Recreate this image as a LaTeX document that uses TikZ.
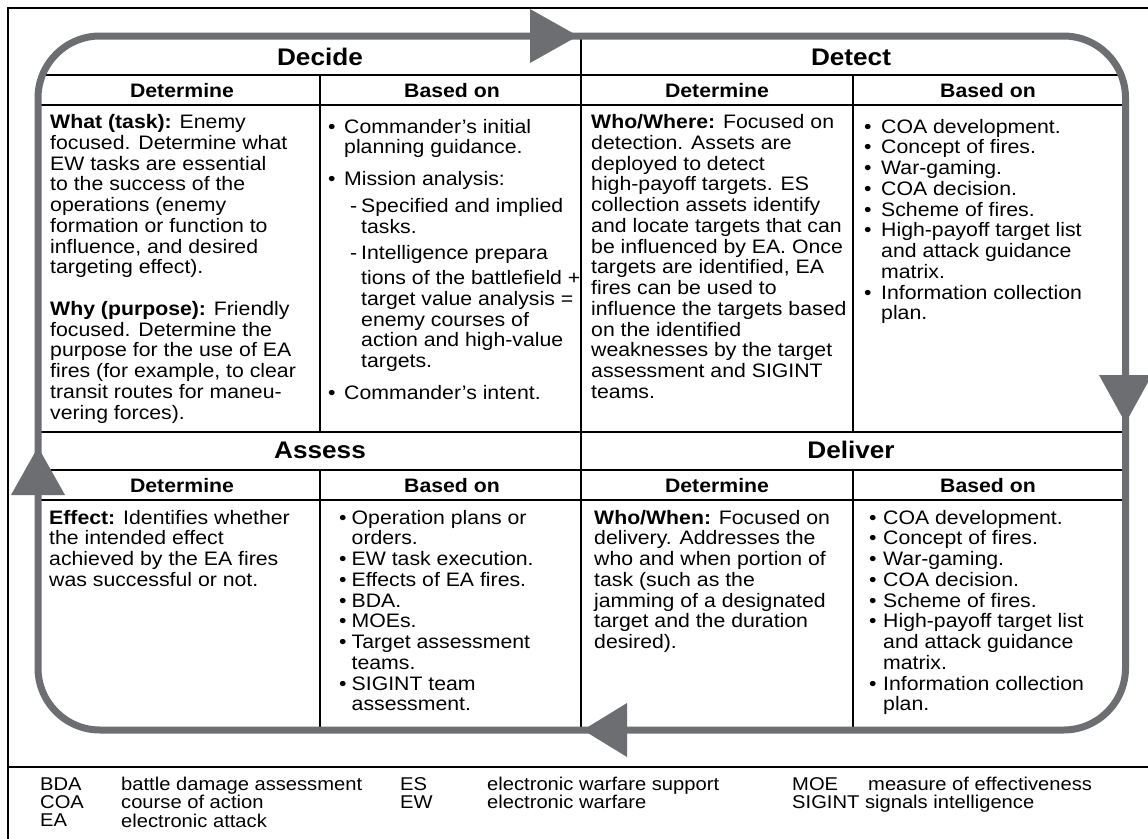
\documentclass[tikz,border=0pt]{standalone}
\usepackage{fontspec}
\setmainfont{Liberation Sans}[FakeStretch=1.09]
\definecolor{loopgray}{RGB}{109,110,113}
\newcommand\bul[1]{\makebox[#1][l]{•}}
\newcommand\ind[1]{\hspace*{#1}}
\tikzset{
  frameline/.style={line width=2.5pt, black},
  tline/.style={line width=2.2pt, black},
  loopline/.style={line width=7pt, draw=loopgray},
  arrowhead/.style={fill=loopgray, draw=none},
  titletext/.style={font=\fontsize{24}{26}\selectfont\bfseries, inner sep=0pt, anchor=base},
  subhead/.style={font=\fontsize{19.5}{20.75}\selectfont\bfseries, inner sep=0pt, anchor=base},
  cell/.style={font=\fontsize{19.5}{20.75}\selectfont, inner sep=0pt, anchor=base west},
  legendtext/.style={font=\fontsize{18.5}{18}\selectfont, inner sep=0pt, anchor=base west},
}
\begin{document}
\begin{tikzpicture}[x=1pt,y=-1pt]
\useasboundingbox (0,0) rectangle (1148,838);
\clip (0,0) rectangle (1148,838);
\fill[white] (0,0) rectangle (1148,838);
% outer frame
\draw[frameline] (8,860) -- (8,8) -- (1170,8);
\draw[frameline] (8,767) -- (1170,767);
% loop corners
\coordinate (tl) at (38,36);
\coordinate (br) at (1125.5,730);
% table grid
\begin{scope}
\clip[rounded corners=62pt] (tl) rectangle (br);
\foreach \yy in {75,105,432,470,500} \draw[tline] (30,\yy) -- (1140,\yy);
\draw[tline] (581,36) -- (581,730);
\draw[tline] (320,75) -- (320,432);
\draw[tline] (320,470) -- (320,730);
\draw[tline] (853,75) -- (853,432);
\draw[tline] (853,470) -- (853,730);
\end{scope}
% cycle loop
\draw[loopline, rounded corners=62pt] (tl) rectangle (br);
\fill[arrowhead] (530,9) -- (578,36) -- (530,63) -- cycle;
\fill[arrowhead] (1099,375) -- (1125.5,423) -- (1152,375) -- cycle;
\fill[arrowhead] (627,703) -- (583,730) -- (627,757) -- cycle;
\fill[arrowhead] (11,495) -- (38,447) -- (65,495) -- cycle;
% titles
\node[titletext] (decide) at (320,65) {Decide};
\node[titletext] (detect) at (851,65) {Detect};
\node[titletext] (assess) at (320,458) {Assess};
\node[titletext] (deliver) at (851,458) {Deliver};
% sub headers
\node[subhead] (h1) at (182,97) {Determine};
\node[subhead] (h2) at (452,97) {Based on};
\node[subhead] (h3) at (717,97) {Determine};
\node[subhead] (h4) at (988,97) {Based on};
\node[subhead] (h5) at (182,492) {Determine};
\node[subhead] (h6) at (452,492) {Based on};
\node[subhead] (h7) at (717,492) {Determine};
\node[subhead] (h8) at (988,492) {Based on};
% Decide
\node[cell] (decA) at (50,128.5) {\begin{tabular}[t]{@{}l@{}}
\textbf{What (task):} Enemy\\
focused. Determine what\\
EW tasks are essential\\
to the success of the\\
operations (enemy\\
formation or function to\\
influence, and desired\\
targeting effect).\\[20.75pt]
\textbf{Why (purpose):} Friendly\\
focused. Determine the\\
purpose for the use of EA\\
fires (for example, to clear\\
transit routes for maneu-\\
vering forces).
\end{tabular}};
\node[cell] (decB) at (328,133) {\begin{tabular}[t]{@{}l@{}}
\bul{16pt}Commander’s initial\\
\ind{16pt}planning guidance.\\[11pt]
\bul{16pt}Mission analysis:\\[6pt]
\ind{22pt}\makebox[11pt][l]{-}Specified and implied\\
\ind{33pt}tasks.\\[6pt]
\ind{22pt}\makebox[11pt][l]{-}Intelligence prepara\\[4pt]
\ind{33pt}tions of the battlefield +\\
\ind{33pt}target value analysis =\\
\ind{33pt}enemy courses of\\
\ind{33pt}action and high-value\\
\ind{33pt}targets.\\[11pt]
\bul{16pt}Commander’s intent.
\end{tabular}};
% Detect
\node[cell] (detA) at (591,128.5) {\begin{tabular}[t]{@{}l@{}}
\textbf{Who/Where:} Focused on\\
detection. Assets are\\
deployed to detect\\
high-payoff targets. ES\\
collection assets identify\\
and locate targets that can\\
be influenced by EA. Once\\
targets are identified, EA\\
fires can be used to\\
influence the targets based\\
on the identified\\
weaknesses by the target\\
assessment and SIGINT\\
teams.
\end{tabular}};
\node[cell] (detB) at (864,133) {\begin{tabular}[t]{@{}l@{}}
\bul{17pt}COA development.\\
\bul{17pt}Concept of fires.\\
\bul{17pt}War-gaming.\\
\bul{17pt}COA decision.\\
\bul{17pt}Scheme of fires.\\
\bul{17pt}High-payoff target list\\
\ind{17pt}and attack guidance\\
\ind{17pt}matrix.\\
\bul{17pt}Information collection\\
\ind{17pt}plan.
\end{tabular}};
% Assess
\node[cell] (assA) at (49,524) {\begin{tabular}[t]{@{}l@{}}
\textbf{Effect:} Identifies whether\\
the intended effect\\
achieved by the EA fires\\
was successful or not.
\end{tabular}};
\node[cell] (assB) at (339,524) {\begin{tabular}[t]{@{}l@{}}
\bul{12.5pt}Operation plans or\\
\ind{12.5pt}orders.\\
\bul{12.5pt}EW task execution.\\
\bul{12.5pt}Effects of EA fires.\\
\bul{12.5pt}BDA.\\
\bul{12.5pt}MOEs.\\
\bul{12.5pt}Target assessment\\
\ind{12.5pt}teams.\\
\bul{12.5pt}SIGINT team\\
\ind{12.5pt}assessment.
\end{tabular}};
% Deliver
\node[cell] (delA) at (594,524) {\begin{tabular}[t]{@{}l@{}}
\textbf{Who/When:} Focused on\\
delivery. Addresses the\\
who and when portion of\\
task (such as the\\
jamming of a designated\\
target and the duration\\
desired).
\end{tabular}};
\node[cell] (delB) at (869,524) {\begin{tabular}[t]{@{}l@{}}
\bul{14pt}COA development.\\
\bul{14pt}Concept of fires.\\
\bul{14pt}War-gaming.\\
\bul{14pt}COA decision.\\
\bul{14pt}Scheme of fires.\\
\bul{14pt}High-payoff target list\\
\ind{14pt}and attack guidance\\
\ind{14pt}matrix.\\
\bul{14pt}Information collection\\
\ind{14pt}plan.
\end{tabular}};
% legend
\node[legendtext] (lg1) at (40,790) {\begin{tabular}[t]{@{}l@{}}BDA\\COA\\EA\end{tabular}};
\node[legendtext] (lg2) at (121,790) {\begin{tabular}[t]{@{}l@{}}battle damage assessment\\course of action\\electronic attack\end{tabular}};
\node[legendtext] (lg3) at (400,790) {\begin{tabular}[t]{@{}l@{}}ES\\EW\end{tabular}};
\node[legendtext] (lg4) at (487,790) {\begin{tabular}[t]{@{}l@{}}electronic warfare support\\electronic warfare\end{tabular}};
\node[legendtext] (lg5) at (792,790) {MOE};
\node[legendtext] (lg6) at (868,790) {measure of effectiveness};
\node[legendtext] (lg7) at (792,808) {SIGINT signals intelligence};
\end{tikzpicture}
\end{document}
